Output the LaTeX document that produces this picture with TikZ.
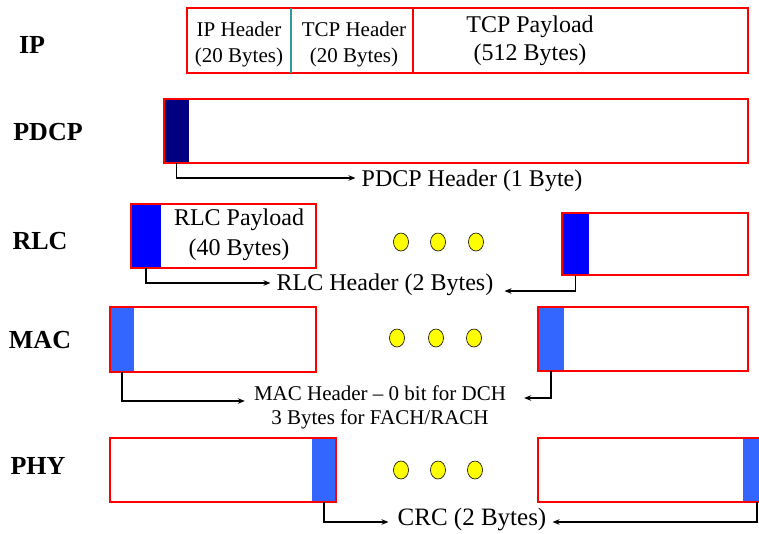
\documentclass[tikz,border=0pt]{standalone}
\usepackage{fontspec}
\setmainfont{Liberation Serif}
\usetikzlibrary{shapes.geometric,arrows.meta}
\definecolor{pkred}{HTML}{FF0000}
\definecolor{hdnavy}{HTML}{000080}
\definecolor{hdblue}{HTML}{0000FF}
\definecolor{hdlight}{HTML}{3366FF}
\definecolor{septeal}{HTML}{339999}
\definecolor{dotyellow}{HTML}{FFFF00}
% rectangle node from (x1,y1) to (x2,y2): name, x1, y1, x2, y2, style
\newcommand\pktbox[6]{\node[#6,minimum width={(#4-#2)*1pt},minimum height={(#5-#3)*1pt}] (#1) at (#2,#3) {};}
\begin{document}
\begin{tikzpicture}[x=1pt,y=-1pt,
  pdu/.style={draw=pkred,line width=2.8pt,inner sep=0,outer sep=0,anchor=north west},
  hdr/.style={inner sep=0,outer sep=0,anchor=north west,fill=#1},
  layer/.style={font=\fontsize{26}{30}\selectfont\bfseries,anchor=base,inner sep=0},
  lbl/.style={font=\fontsize{24}{24}\selectfont,inner sep=0,align=center},
  small/.style={font=\fontsize{21}{26}\selectfont,inner sep=0,align=center},
  conn/.style={draw=black,line width=1.6pt,-{Stealth[length=7pt,width=5.5pt]}},
  ydot/.style={ellipse,draw=black,line width=0.6pt,fill=dotyellow,minimum width=15pt,minimum height=18pt,inner sep=0}]
\useasboundingbox (0,0) rectangle (759,533);

% layer names
\node[layer] (lip)   at (32,53)  {IP};
\node[layer] (lpdcp) at (48,140) {PDCP};
\node[layer] (lrlc)  at (40,249) {RLC};
\node[layer] (lmac)  at (40,348) {MAC};
\node[layer] (lphy)  at (38,474) {PHY};

% IP packet
\pktbox{ipcell}{187}{8}{291}{73}{pdu}
\pktbox{tcpcell}{291}{8}{413}{73}{pdu}
\pktbox{paycell}{413}{8}{748}{73}{pdu}
\draw[septeal,line width=2.4pt] (ipcell.north east) -- (ipcell.south east);
\node[small] (iptxt)  at (239,44) {IP Header\\[0pt](20 Bytes)};
\node[small] (tcptxt) at (354,44) {TCP Header\\[0pt](20 Bytes)};
\node[lbl,font=\fontsize{24}{28}\selectfont] (paytxt) at (530,41) {TCP Payload\\(512 Bytes)};

% PDCP
\pktbox{pdcphdr}{164}{99}{189}{163}{hdr=hdnavy}
\pktbox{pdcpbox}{164}{99}{748}{163}{pdu}
\node[lbl] (pdcptxt) at (472,181) {PDCP Header (1 Byte)};
\draw[conn] (pdcphdr.south) |- ([xshift=-6pt,yshift=3pt]pdcptxt.west);

% RLC
\pktbox{rlchdrA}{131}{204}{161}{268}{hdr=hdblue}
\pktbox{rlcboxA}{131}{204}{316}{268}{pdu}
\node[lbl,font=\fontsize{24}{30}\selectfont] (rlcpay) at (239,235) {RLC Payload\\(40 Bytes)};
\pktbox{rlchdrB}{562}{213}{589}{275}{hdr=hdblue}
\pktbox{rlcboxB}{562}{213}{748}{275}{pdu}
\node[ydot] (rd1) at (401,242) {};
\node[ydot] (rd2) at (438,242) {};
\node[ydot] (rd3) at (476,242) {};
\node[lbl] (rlctxt) at (385,285) {RLC Header (2 Bytes)};
\draw[conn] (rlchdrA.south) |- ([xshift=-6pt,yshift=2pt]rlctxt.west);
\draw[conn] (rlchdrB.south) |- ([xshift=11pt,yshift=-6pt]rlctxt.east);

% MAC
\pktbox{machdrA}{110}{307}{134}{372}{hdr=hdlight}
\pktbox{macboxA}{110}{307}{316}{372}{pdu}
\pktbox{machdrB}{538}{307}{564}{371}{hdr=hdlight}
\pktbox{macboxB}{538}{307}{748}{371}{pdu}
\node[ydot] (md1) at (397,338) {};
\node[ydot] (md2) at (436,338) {};
\node[ydot] (md3) at (474,338) {};
\node[lbl,font=\fontsize{21}{24}\selectfont] (mactxt) at (380,407) {MAC Header -- 0 bit for DCH\\3 Bytes for FACH/RACH};
\draw[conn] (machdrA.south) |- ([xshift=-9pt,yshift=6pt]mactxt.west);
\draw[conn] (machdrB.south) |- ([xshift=18pt,yshift=9pt]mactxt.east);

% PHY
\pktbox{phyhdrA}{312}{438}{336}{502}{hdr=hdlight}
\pktbox{phyboxA}{110}{438}{336}{502}{pdu}
\pktbox{phyhdrB}{743}{438}{771}{502}{hdr=hdlight}
\pktbox{phyboxB}{538}{438}{771}{502}{pdu}
\node[ydot] (pd1) at (401,470) {};
\node[ydot] (pd2) at (438,470) {};
\node[ydot] (pd3) at (475,470) {};
\node[lbl,font=\fontsize{25}{25}\selectfont] (crctxt) at (472,520) {CRC (2 Bytes)};
\draw[conn] (phyhdrA.south) |- ([xshift=-9pt,yshift=-2pt]crctxt.west);
\draw[conn] (phyhdrB.south) |- ([xshift=6pt,yshift=-2pt]crctxt.east);
\end{tikzpicture}
\end{document}
